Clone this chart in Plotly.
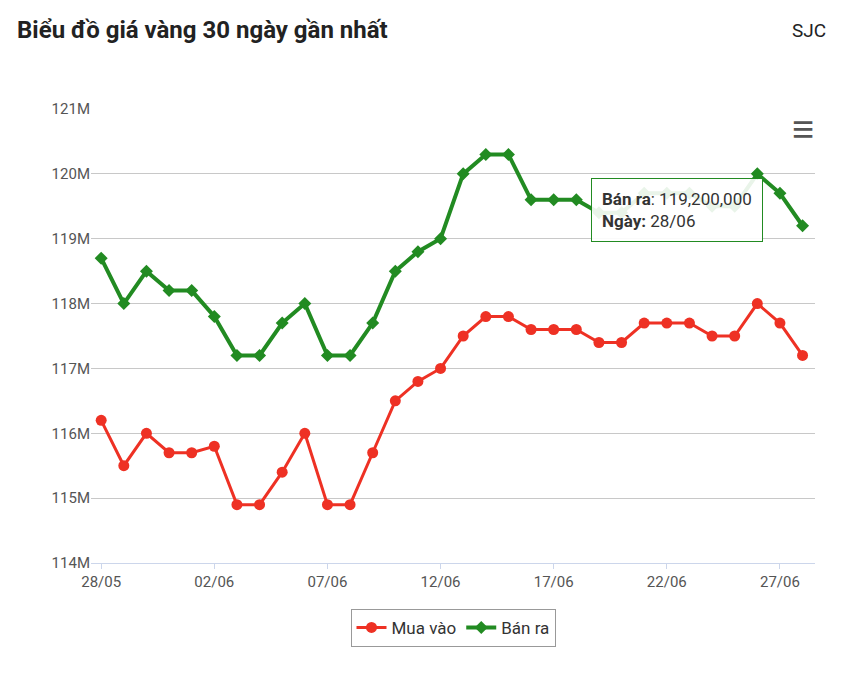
import plotly.graph_objects as go

dates = ["28/05","29/05","30/05","31/05","01/06","02/06","03/06","04/06","05/06","06/06","07/06","08/06",
         "09/06","10/06","11/06","12/06","13/06","14/06","15/06","16/06","17/06","18/06","19/06","20/06",
         "21/06","22/06","23/06","24/06","25/06","26/06","27/06","28/06"]
mua_vao = [116.2,115.5,116.0,115.7,115.7,115.8,114.9,114.9,115.4,116.0,114.9,114.9,115.7,116.5,116.8,117.0,
           117.5,117.8,117.8,117.6,117.6,117.6,117.4,117.4,117.7,117.7,117.7,117.5,117.5,118.0,117.7,117.2]
ban_ra = [118.7,118.0,118.5,118.2,118.2,117.8,117.2,117.2,117.7,118.0,117.2,117.2,117.7,118.5,118.8,119.0,
          120.0,120.3,120.3,119.6,119.6,119.6,119.4,119.4,119.7,119.7,119.7,119.5,119.5,120.0,119.7,119.2]
mua_vao = [v*1e6 for v in mua_vao]
ban_ra = [v*1e6 for v in ban_ra]
yticks = [114e6,115e6,116e6,117e6,118e6,119e6,120e6,121e6]
ytext = ["114M","115M","116M","117M","118M","119M","120M","121M"]
x = list(range(len(dates)))
tickidx = list(range(0, len(dates), 5))

fig = go.Figure()
fig.add_trace(go.Scatter(x=x, y=mua_vao, name="Mua vào", mode="lines+markers",
                         line=dict(color="#ee3124", width=3), marker=dict(size=11, symbol="circle")))
fig.add_trace(go.Scatter(x=x, y=ban_ra, name="Bán ra", mode="lines+markers",
                         line=dict(color="#228b22", width=4), marker=dict(size=10, symbol="diamond")))
fig.update_layout(
    width=842, height=678, plot_bgcolor="white", paper_bgcolor="white",
    margin=dict(l=83, r=35, t=101, b=123),
    font=dict(family="Roboto, sans-serif", color="#333"),
    xaxis=dict(range=[-0.45, 31.55], tickvals=tickidx, ticktext=[dates[i] for i in tickidx],
               showgrid=False, showline=True, linecolor="#ccd6eb", ticks="outside", tickcolor="#ccd6eb",
               tickfont=dict(size=15, color="#555"), zeroline=False),
    yaxis=dict(range=[114e6, 121e6], tickvals=yticks, ticktext=ytext, gridcolor="#c8c8c8",
               tickfont=dict(size=15, color="#555"), zeroline=False),
    legend=dict(orientation="h", x=0.5, xanchor="center", y=-0.143, yanchor="middle",
                bordercolor="#999", borderwidth=1, font=dict(size=17, color="#333")),
    showlegend=True,
    annotations=[
        dict(text="<b>Biểu đồ giá vàng 30 ngày gần nhất</b>", xref="paper", yref="paper", x=-0.105, y=1.174,
             xanchor="left", yanchor="middle", showarrow=False, font=dict(size=24, color="#222")),
        dict(text="SJC", xref="paper", yref="paper", x=1.018, y=1.174, xanchor="right", yanchor="middle",
             showarrow=False, font=dict(size=19, color="#222")),
        dict(text="<b>≡</b>", xref="paper", yref="paper", x=0.984, y=0.955, xanchor="center", yanchor="middle",
             showarrow=False, font=dict(size=38, color="#555")),
        dict(text="<b>Bán ra</b>: 119,200,000<br><b>Ngày:</b> 28/06", x=31, y=119.2e6, xref="x", yref="y",
             showarrow=False, xshift=-126, yshift=16, align="left",
             bgcolor="rgba(255,255,255,0.9)", bordercolor="#228b22", borderwidth=1, borderpad=10,
             font=dict(size=17, color="#333")),
    ],
)
fig.write_html("out.html")
